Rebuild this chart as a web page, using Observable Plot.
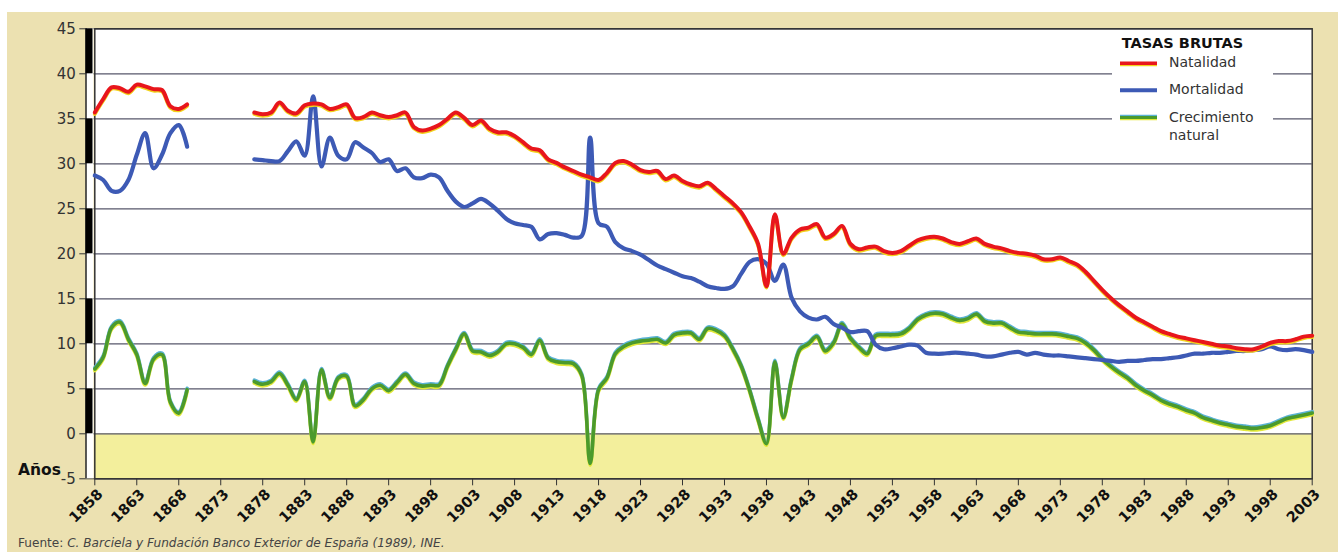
<!DOCTYPE html>
<html>
<head>
<meta charset="utf-8">
<script src="https://cdn.jsdelivr.net/npm/d3@7"></script>
<script src="https://cdn.jsdelivr.net/npm/@observablehq/plot@0.6"></script>
<style>
  html, body { margin: 0; padding: 0; background: #fff; }
  #page { position: relative; width: 1338px; height: 552px; overflow: hidden; background: #fff;
          font-family: "DejaVu Sans", Verdana, sans-serif; }
  #beige { position: absolute; left: 7px; top: 12px; width: 1331px; height: 540px; background: #ece1b1; }
  #chart { position: absolute; left: 0; top: 0; }
  #anos { position: absolute; left: 11px; top: 449px; font-weight: bold; font-size: 15.5px; color: #111; }
  #fuente { position: absolute; left: 11px; top: 524px; font-size: 12.1px; color: #444; white-space: nowrap; }
  #legend { position: absolute; left: 1105px; top: 18px; }
</style>
</head>
<body>
<div id="page">
  <div id="beige">
    <div id="chart"></div>
    <div id="anos">Años</div>
    <div id="fuente">Fuente: <i>C. Barciela y Fundación Banco Exterior de España (1989), INE.</i></div>
    <svg id="legend" width="161" height="120" xmlns="http://www.w3.org/2000/svg"
         font-family="DejaVu Sans, Verdana, sans-serif">
      <rect x="0" y="0" width="161" height="120" fill="#fff"/>
      <text x="9.7" y="18.3" font-size="14.5" font-weight="bold" fill="#111">TASAS BRUTAS</text>
      <line x1="8" x2="45" y1="34.8" y2="34.8" stroke="#f2d21c" stroke-width="3"/>
      <line x1="8" x2="45" y1="33.3" y2="33.3" stroke="#e8161c" stroke-width="3.5"/>
      <text x="57" y="36.9" font-size="14" fill="#333">Natalidad</text>
      <line x1="8" x2="45" y1="60.2" y2="60.2" stroke="#3d5ab5" stroke-width="4"/>
      <text x="57" y="64.2" font-size="14" fill="#333">Mortalidad</text>
      <line x1="8" x2="45" y1="86.3" y2="86.3" stroke="#5ab2d4" stroke-width="3"/>
      <line x1="8" x2="45" y1="88.8" y2="88.8" stroke="#e2e83a" stroke-width="3"/>
      <line x1="8" x2="45" y1="87.5" y2="87.5" stroke="#4b9a2c" stroke-width="3"/>
      <text x="57" y="91.8" font-size="14" fill="#333">Crecimiento</text>
      <text x="57" y="110" font-size="14" fill="#333">natural</text>
    </svg>
  </div>
</div>
<script>
// ---- Data ----
const periodo1 = d3.range(1858, 1870);          // 1858-1869
const periodo2 = d3.range(1877, 2004);          // 1877-2003

const natalidad1 = [35.7, 37.2, 38.5, 38.4, 38.0, 38.8, 38.6, 38.3, 38.2, 36.4, 36.1, 36.6];
const mortalidad1 = [28.7, 28.2, 27.0, 27.0, 28.2, 31.0, 33.4, 29.5, 31.0, 33.4, 34.3, 31.9];
const crecimiento1 = [7.2, 8.5, 11.8, 12.4, 10.5, 8.8, 5.6, 8.3, 8.8, 3.5, 2.3, 4.9];

const natalidad2 = [
  35.7, 35.5, 35.7, 36.8, 35.9, 35.6, 36.5, 36.7, 36.6, 36.1,
  36.3, 36.6, 35.1, 35.2, 35.7, 35.4, 35.2, 35.4, 35.7, 34.1,
  33.7, 33.9, 34.3, 35.0, 35.7, 35.1, 34.3, 34.8, 33.9, 33.5,
  33.5, 33.1, 32.4, 31.7, 31.5, 30.5, 30.1, 29.6, 29.2, 28.8,
  28.5, 28.2, 29.0, 30.1, 30.3, 29.9, 29.3, 29.1, 29.2, 28.3,
  28.7, 28.1, 27.7, 27.5, 27.9, 27.2, 26.4, 25.6, 24.6, 23.0,
  21.1, 16.4, 24.4, 20.0, 21.8, 22.7, 22.9, 23.3, 21.8, 22.2,
  23.1, 21.1, 20.5, 20.7, 20.8, 20.3, 20.1, 20.3, 20.9, 21.5,
  21.8, 21.9, 21.7, 21.3, 21.1, 21.4, 21.7, 21.1, 20.8, 20.6,
  20.3, 20.1, 20.0, 19.8, 19.4, 19.4, 19.6, 19.2, 18.8, 18.0,
  17.0, 16.0, 15.1, 14.3, 13.6, 12.9, 12.4, 11.9, 11.4, 11.1,
  10.8, 10.6, 10.4, 10.2, 10.0, 9.8, 9.7, 9.5, 9.4, 9.4,
  9.7, 10.1, 10.3, 10.3, 10.5, 10.8, 10.9
];
const mortalidad2 = [
  30.5, 30.4, 30.3, 30.3, 31.4, 32.5, 30.9, 37.5, 29.7, 32.9,
  30.9, 30.5, 32.4, 31.8, 31.2, 30.2, 30.5, 29.2, 29.5, 28.5,
  28.4, 28.8, 28.5, 27.0, 25.8, 25.2, 25.6, 26.1, 25.6, 24.8,
  23.9, 23.4, 23.2, 23.0, 21.6, 22.2, 22.3, 22.1, 21.8, 22.0,
  32.9, 23.4, 23.0, 21.3, 20.6, 20.3, 19.9, 19.3, 18.7, 18.3,
  17.9, 17.5, 17.3, 16.9, 16.4, 16.2, 16.1, 16.4, 17.8, 19.1,
  19.4, 18.9, 17.0, 18.8, 15.1, 13.6, 12.9, 12.7, 13.0, 12.2,
  11.8, 11.3, 11.4, 11.4, 9.9, 9.4, 9.5, 9.7, 9.9, 9.8,
  9.0, 8.9, 8.9, 9.0, 9.0, 8.9, 8.8, 8.6, 8.6, 8.8,
  9.0, 9.1, 8.8, 9.0, 8.8, 8.7, 8.7, 8.6, 8.5, 8.4,
  8.3, 8.2, 8.1, 8.0, 8.1, 8.1, 8.2, 8.3, 8.3, 8.4,
  8.5, 8.7, 8.9, 8.9, 9.0, 9.0, 9.1, 9.2, 9.2, 9.3,
  9.4, 9.7, 9.4, 9.3, 9.4, 9.3, 9.1
];
const crecimiento2 = [
  5.8, 5.5, 5.8, 6.7, 5.4, 3.8, 5.8, -0.9, 7.1, 4.0,
  6.2, 6.4, 3.1, 3.8, 5.0, 5.4, 4.8, 5.7, 6.6, 5.6,
  5.3, 5.4, 5.4, 7.5, 9.4, 11.1, 9.2, 9.1, 8.7, 9.1,
  10.0, 10.0, 9.6, 8.8, 10.4, 8.4, 8.0, 7.9, 7.8, 6.5,
  -3.3, 4.9, 6.2, 8.9, 9.7, 10.1, 10.3, 10.4, 10.5, 10.1,
  11.0, 11.2, 11.2, 10.5, 11.7, 11.5, 10.9, 9.4, 7.5, 4.8,
  1.6, -1.1, 8.0, 1.8, 6.1, 9.4, 10.0, 10.8, 9.2, 10.1,
  12.2, 10.6, 9.6, 8.9, 10.9, 11.0, 11.0, 11.1, 11.7, 12.7,
  13.2, 13.4, 13.3, 12.9, 12.6, 12.8, 13.3, 12.5, 12.3, 12.3,
  11.8, 11.3, 11.2, 11.1, 11.1, 11.1, 11.0, 10.8, 10.6, 10.1,
  9.3, 8.3, 7.5, 6.8, 6.2, 5.4, 4.8, 4.3, 3.7, 3.3,
  3.0, 2.6, 2.3, 1.8, 1.5, 1.2, 1.0, 0.8, 0.7, 0.6,
  0.7, 0.9, 1.3, 1.7, 1.9, 2.1, 2.3
];

const xTicks = d3.range(1858, 2004, 5);   // 1858 ... 2003
const yTicks = d3.range(-5, 46, 5);       // -5 ... 45
const zonaNegativa = [{lo: -5, hi: 0}];

// ---- Build tables ----
function rows(seg, years, vals) {
  return years.map((year, i) => ({seg, year, value: vals[i]}));
}
const natal = [...rows(1, periodo1, natalidad1), ...rows(2, periodo2, natalidad2)];
const mort = [...rows(1, periodo1, mortalidad1), ...rows(2, periodo2, mortalidad2)];
const crec = [...rows(1, periodo1, crecimiento1), ...rows(2, periodo2, crecimiento2)];

const bandas = yTicks.slice(0, -1).map((lo, i) => ({lo, hi: yTicks[i + 1], negro: i % 2 === 1}));
const escala = [{lo: yTicks[0], hi: yTicks[yTicks.length - 1]}];
const x0 = () => xTicks[0];

const lineOpts = {x: "year", y: "value", z: "seg", curve: "catmull-rom",
                  strokeLinejoin: "round", strokeLinecap: "round"};

const chart = Plot.plot({
  width: 1331,
  height: 522,
  marginLeft: 87.3,
  marginRight: 26.3,
  marginTop: 16.3,
  marginBottom: 55.7,
  style: {background: "transparent", fontFamily: "DejaVu Sans, Verdana, sans-serif", overflow: "visible"},
  x: {domain: [xTicks[0], xTicks[xTicks.length - 1]]},
  y: {domain: [yTicks[0], yTicks[yTicks.length - 1]]},
  marks: [
    Plot.frame({fill: "#fff"}),
    Plot.rect(zonaNegativa, {y1: "lo", y2: "hi", fill: "#f3ef9c"}),
    Plot.gridY(yTicks, {stroke: "#57576b", strokeOpacity: 1, strokeWidth: 1.2}),
    Plot.axisY(yTicks, {tickSize: 15, tickPadding: 4, tickFormat: d => String(d), fontSize: 15,
                        color: "#333", label: null}),
    // vertical scale bar with alternating black / white bands
    Plot.ruleX(escala, {x: x0, y1: "lo", y2: "hi", stroke: "#fff", strokeWidth: 8, dx: -5.3}),
    Plot.ruleX(bandas.filter(d => d.negro), {x: x0, y1: "lo", y2: "hi", stroke: "#000", strokeWidth: 7, dx: -5.8}),
    Plot.ruleX(escala, {x: x0, y1: "lo", y2: "hi", stroke: "#000", strokeWidth: 1.3, dx: -8.8}),
    // x axis: ticks, then rotated bold year labels
    Plot.axisX(xTicks, {tickSize: 7, tickFormat: () => "", color: "#333", label: null}),
    Plot.text(xTicks, {x: d => d, text: d => String(d), frameAnchor: "bottom", rotate: -45,
                       textAnchor: "end", lineAnchor: "middle", dx: 5.5, dy: 13,
                       fontSize: 14.5, fontWeight: "bold", fill: "#111"}),
    Plot.frame({stroke: "#333", strokeWidth: 1.5}),
    // Crecimiento natural (green with halo)
    Plot.line(crec, {...lineOpts, stroke: "#5ab2d4", strokeWidth: 3.6, dy: -1.4}),
    Plot.line(crec, {...lineOpts, stroke: "#e2e83a", strokeWidth: 3.6, dy: 1.6}),
    Plot.line(crec, {...lineOpts, stroke: "#4b9a2c", strokeWidth: 3.6}),
    // Mortalidad (blue)
    Plot.line(mort, {...lineOpts, stroke: "#3d5ab5", strokeWidth: 4.2}),
    // Natalidad (red with yellow halo)
    Plot.line(natal, {...lineOpts, stroke: "#f2d21c", strokeWidth: 3.8, dy: 1.5}),
    Plot.line(natal, {...lineOpts, stroke: "#e8161c", strokeWidth: 4})
  ]
});
document.getElementById("chart").appendChild(chart);
</script>
</body>
</html>
